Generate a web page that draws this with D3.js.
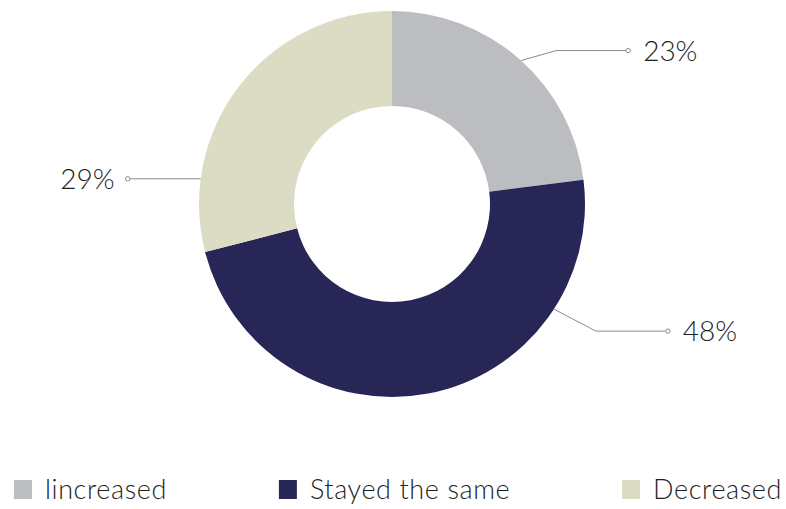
<!DOCTYPE html>
<html>
<head>
<meta charset="utf-8">
<script src="https://cdn.jsdelivr.net/npm/d3@7"></script>
<style>
  body { margin: 0; background: #fff; }
  svg text { font-family: "Lato", "Open Sans", sans-serif; font-weight: 300; fill: #1e1e1e; }
</style>
</head>
<body>
<script>
// chart data
var categories = ["lincreased", "Stayed the same", "Decreased"];
var values = [23, 48, 29];
var labels = ["23%", "48%", "29%"];
var colors = ["#bcbdc1", "#272657", "#dcdcc4"];

// where each leader line touches the ring (deg from top, clockwise)
var leaderAngles = [42, 123, 277.5];

var w = 786, h = 509;
var cx = 392, cy = 204;
var outerR = 193, innerR = 98;

var svg = d3.select("body")
    .append("svg")
    .attr("width", w)
    .attr("height", h);

var pie = d3.pie().sort(null).value(function(d) { return d; });
var arc = d3.arc().innerRadius(innerR).outerRadius(outerR);

var g = svg.append("g").attr("transform", "translate(" + cx + "," + cy + ")");

g.selectAll("path")
    .data(pie(values))
    .enter()
    .append("path")
    .attr("d", arc)
    .attr("fill", function(d, i) { return colors[i]; });

// leader lines + labels
var elbows = [[35, -10], [42, 22], [0, 0]];
var runs = [72, 72, 73];

labels.forEach(function(lab, i) {
    var a = leaderAngles[i] * Math.PI / 180;
    var x0 = Math.sin(a) * outerR, y0 = -Math.cos(a) * outerR;
    var x1 = x0 + elbows[i][0], y1 = y0 + elbows[i][1];
    var right = x0 > 0;
    var x2 = x1 + (right ? runs[i] : -runs[i]);

    g.append("polyline")
        .attr("points", [[x0, y0], [x1, y1], [x2, y1]].map(function(p) { return p.join(","); }).join(" "))
        .attr("fill", "none")
        .attr("stroke", "#8a8a8a")
        .attr("stroke-width", 1);

    g.append("circle")
        .attr("cx", x2).attr("cy", y1).attr("r", 2.2)
        .attr("fill", "#fff")
        .attr("stroke", "#8a8a8a")
        .attr("stroke-width", 1);

    g.append("text")
        .attr("x", right ? x2 + 15 : x2 - 13)
        .attr("y", y1)
        .attr("dy", "0.36em")
        .attr("text-anchor", right ? "start" : "end")
        .attr("font-size", "28px")
        .text(lab);
});

// legend, spread edge to edge
var legY = 489.5, sq = 18, gapTxt = 13, left = 14, rightEdge = 782;
var items = svg.selectAll("g.leg")
    .data(categories)
    .enter()
    .append("g")
    .attr("class", "leg");

items.append("rect")
    .attr("width", sq).attr("height", 19)
    .attr("y", legY - 9.5)
    .attr("fill", function(d, i) { return colors[i]; });

items.append("text")
    .attr("x", sq + gapTxt)
    .attr("y", legY)
    .attr("dy", "0.36em")
    .attr("font-size", "27px")
    .attr("letter-spacing", "0.6px")
    .text(function(d) { return d; });

var widths = [];
items.each(function() { widths.push(this.getBBox().width); });
var total = d3.sum(widths);
var gap = (rightEdge - left - total) / (categories.length - 1);
var xpos = left;
items.attr("transform", function(d, i) {
    var t = "translate(" + xpos + ",0)";
    xpos += widths[i] + gap;
    return t;
});
</script>
</body>
</html>
